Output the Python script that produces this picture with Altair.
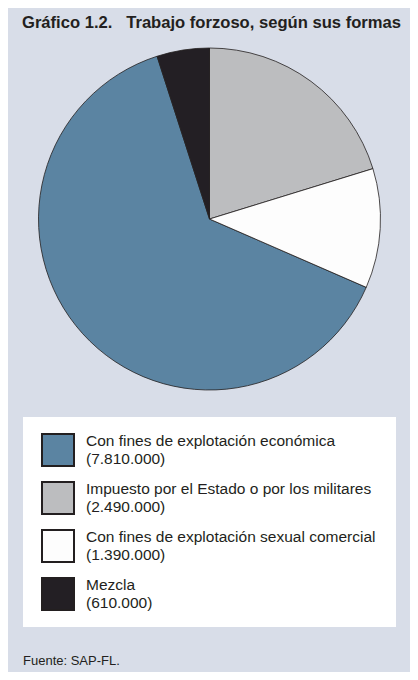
import altair as alt
import pandas as pd

# Data
categorias = [
    "Con fines de explotación económica",
    "Impuesto por el Estado o por los militares",
    "Con fines de explotación sexual comercial",
    "Mezcla",
]
valores = [7810000, 2490000, 1390000, 610000]
etiquetas_valor = ["(7.810.000)", "(2.490.000)", "(1.390.000)", "(610.000)"]
orden_pie = [3, 1, 2, 4]  # clockwise order from 12 o'clock
fila_leyenda = [0, 1, 2, 3]
colores = ["#5b84a2", "#bcbdbf", "#fdfdfd", "#231f24"]

titulo = "Gráfico 1.2.\u00a0\u00a0\u00a0Trabajo forzoso, según sus formas"
fuente = "Fuente: SAP-FL."

BG = "#d8dde8"
INK = "#231f20"
FONT = "Liberation Sans"

df = pd.DataFrame({
    "cat": categorias,
    "valor": valores,
    "orden": orden_pie,
    "fila": fila_leyenda,
    "lab": [c + "|" + v for c, v in zip(categorias, etiquetas_valor)],
})

color = alt.Color("cat:N", scale=alt.Scale(domain=categorias, range=colores), legend=None)
yfila = alt.Y("fila:Q", scale=alt.Scale(domain=[0, 3], range=[442, 586]), axis=None)

pie = alt.Chart(df).mark_arc(
    radius=171, stroke=INK, strokeWidth=0.8
).encode(
    theta=alt.Theta("valor:Q", stack=True),
    order=alt.Order("orden:Q"),
    color=color,
    x=alt.value(201.5),
    y=alt.value(211),
)

box = alt.Chart(pd.DataFrame({"b": [1]})).mark_rect(fill="white").encode(
    x=alt.value(15), x2=alt.value(388), y=alt.value(409), y2=alt.value(619)
)

swatches = alt.Chart(df).mark_square(
    size=1024, stroke=INK, strokeWidth=2, opacity=1
).encode(
    x=alt.value(50), y=yfila, color=color
)

labels = alt.Chart(df).mark_text(
    align="left", baseline="middle", font=FONT, fontSize=15.5,
    lineHeight=18, lineBreak="|", color=INK, dy=-9
).encode(
    x=alt.value(78), y=yfila, text="lab:N"
)

title_layer = alt.Chart(pd.DataFrame({"t": [titulo]})).mark_text(
    align="left", baseline="alphabetic", font=FONT, fontSize=16.6,
    fontWeight="bold", color=INK
).encode(text="t:N", x=alt.value(14), y=alt.value(20))

source_layer = alt.Chart(pd.DataFrame({"t": [fuente]})).mark_text(
    align="left", baseline="alphabetic", font=FONT, fontSize=13,
    color=INK
).encode(text="t:N", x=alt.value(15), y=alt.value(657))

chart = alt.layer(pie, box, swatches, labels, title_layer, source_layer).properties(
    width=402, height=664, background=BG, padding=0,
    autosize=alt.AutoSizeParams(type="none"),
).configure_view(stroke=None, fill=BG)

chart.save("out.html", embed_options={"renderer": "svg", "actions": False})
